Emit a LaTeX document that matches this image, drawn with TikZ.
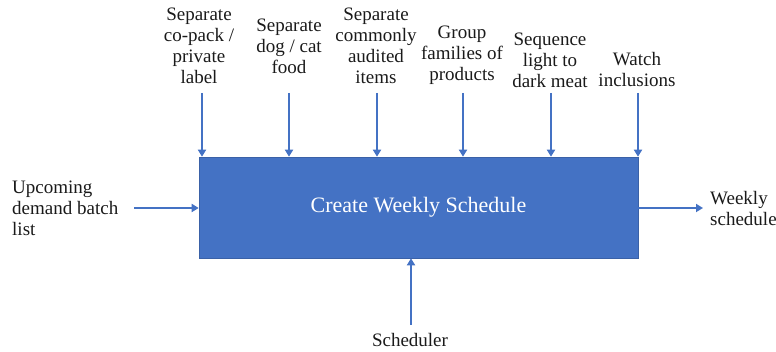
\documentclass[tikz,border=0pt]{standalone}
\usepackage{fontspec}
\setmainfont{Liberation Serif}
\usetikzlibrary{arrows.meta}
\definecolor{boxblue}{HTML}{4472C4}
\definecolor{txt}{HTML}{1A1A1A}
\tikzset{
  lbl/.style={text=txt, align=center, font=\fontsize{19}{21}\selectfont, inner sep=0pt},
  lbll/.style={text=txt, align=left, font=\fontsize{19}{21}\selectfont, inner sep=0pt},
  flow/.style={draw=boxblue, line width=2pt, -{Triangle[length=7pt,width=8pt]}},
  procbox/.style={fill=boxblue, draw=boxblue!85!black, line width=0.6pt, text=white,
    minimum width=439pt, minimum height=101pt, inner sep=0pt,
    font=\fontsize{22}{24}\selectfont}
}
\begin{document}
\begin{tikzpicture}[x=1pt,y=-1pt]
\useasboundingbox (0,0) rectangle (776,352);
\node[procbox] (box) at (418.5,207.5) {Create Weekly Schedule};

% top labels
\node[lbl] (t1) at (199,46) {Separate\\co-pack /\\private\\label};
\node[lbl] (t2) at (289,46.5) {Separate\\dog / cat\\food};
\node[lbl] (t3) at (376,46) {Separate\\commonly\\audited\\items};
\node[lbl] (t4) at (462,55.5) {Group\\families of\\products};
\node[lbl] (t5) at (550,60.5) {Sequence\\light to\\dark meat};
\node[lbl] (t6) at (637,70) {Watch\\inclusions};

\coordinate (a1) at (202,93);
\coordinate (a2) at (289,93);
\coordinate (a3) at (377,93);
\coordinate (a4) at (463,93);
\coordinate (a5) at (551,93);
\coordinate (a6) at (638,93);
\foreach \i in {1,...,6} {
  \draw[flow] (a\i) -- (a\i |- box.north);
}

% left input
\node[lbll, anchor=west] (in) at (12,208.5) {Upcoming\\demand batch\\list};
\coordinate (inS) at (134,208);
\draw[flow] (inS) -- (inS -| box.west);

% right output
\node[lbll, anchor=west] (out) at (710,208.5) {Weekly\\schedule};
\coordinate (outE) at (703,208);
\draw[flow] (box.east |- outE) -- (outE);

% bottom mechanism
\node[lbl] (mech) at (410,340.5) {Scheduler};
\coordinate (mS) at (411,325);
\draw[flow] (mS) -- (mS |- box.south);
\end{tikzpicture}
\end{document}
